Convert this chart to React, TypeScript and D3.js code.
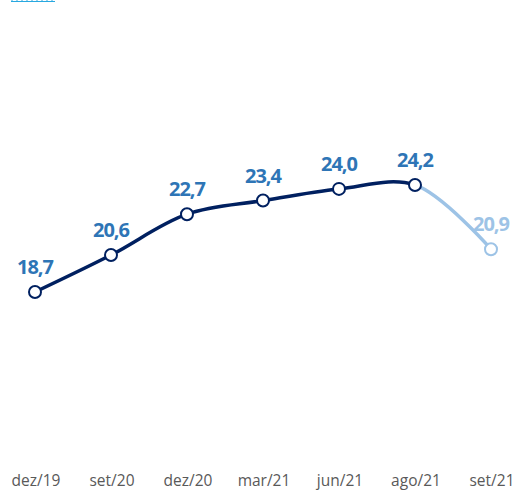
import React from 'react';
import * as d3 from 'd3';

const categories = ['dez/19', 'set/20', 'dez/20', 'mar/21', 'jun/21', 'ago/21', 'set/21'];
const values = [18.7, 20.6, 22.7, 23.4, 24.0, 24.2, 20.9];
const valueLabels = ['18,7', '20,6', '22,7', '23,4', '24,0', '24,2', '20,9'];
// index after which the series is drawn in the light (projected) colour
const projectedFrom = 5;

const width = 518;
const height = 492;
const dark = '#002060';
const light = '#9dc3e6';
const labelBlue = '#2e75b6';

export default function App() {
  const x = d3.scalePoint<string>().domain(categories).range([35, 491]);
  const y = d3.scaleLinear().domain([18.7, 24.2]).range([292, 185]);

  const pts: [number, number][] = categories.map((c, i) => [x(c) as number, y(values[i])]);
  const line = d3.line().curve(d3.curveCatmullRom.alpha(0.5));
  const fullPath = line(pts) || '';
  const splitX = pts[projectedFrom][0];

  return (
    <svg
      width={width}
      height={height}
      style={{ position: 'absolute', left: 0, top: 0, fontFamily: '"Open Sans", sans-serif' }}
    >
      <defs>
        <clipPath id="solid">
          <rect x={0} y={0} width={splitX} height={height} />
        </clipPath>
        <clipPath id="proj">
          <rect x={splitX} y={0} width={width - splitX} height={height} />
        </clipPath>
      </defs>

      {/* cut-off link at the top */}
      <line x1={11} x2={55} y1={1.5} y2={1.5} stroke="#29a8e0" strokeWidth={1} />
      {d3.range(12, 56, 5).map((t) => (
        <line key={t} x1={t} x2={t} y1={0} y2={1.5} stroke="#29a8e0" strokeWidth={1} />
      ))}

      <path d={fullPath} fill="none" stroke={light} strokeWidth={3.5} clipPath="url(#proj)" />
      <path d={fullPath} fill="none" stroke={dark} strokeWidth={3.5} clipPath="url(#solid)" />

      {pts.map(([px, py], i) => (
        <circle
          key={i}
          cx={px}
          cy={py}
          r={6}
          fill="#fff"
          stroke={i > projectedFrom ? light : dark}
          strokeWidth={2}
        />
      ))}

      {pts.map(([px, py], i) => (
        <text
          key={'l' + i}
          x={px}
          y={py - 18}
          textAnchor="middle"
          fontSize={20}
          fontWeight="bold"
          letterSpacing={-1}
          fill={i > projectedFrom ? light : labelBlue}
        >
          {valueLabels[i]}
        </text>
      ))}

      {categories.map((c) => (
        <text key={c} x={(x(c) as number) + 1} y={486} textAnchor="middle" fontSize={15.5} fill="#595959">
          {c}
        </text>
      ))}
    </svg>
  );
}
